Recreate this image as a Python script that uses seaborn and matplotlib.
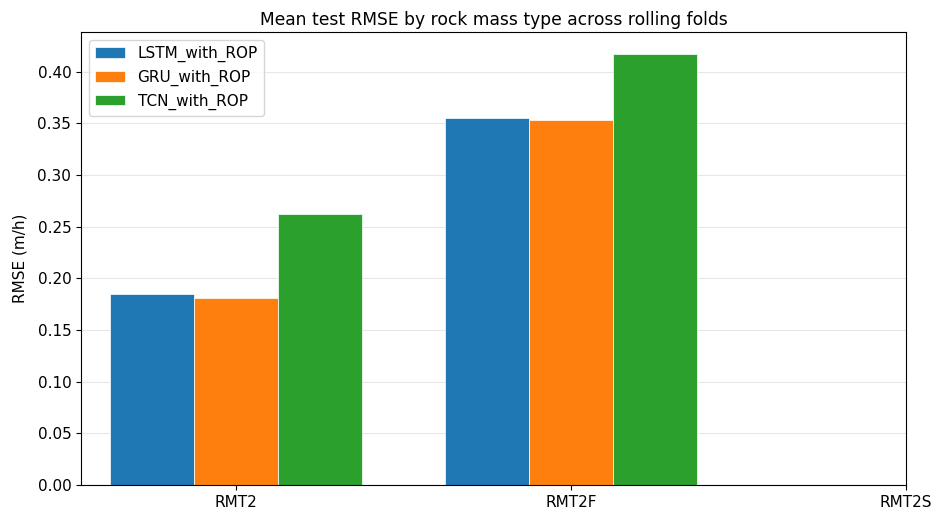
import numpy as np
import pandas as pd
import matplotlib
matplotlib.use("Agg")
import matplotlib.pyplot as plt
import seaborn as sns

# Mean test RMSE per rock mass type (RMT2S has no test folds -> no value)
rock_types = ["RMT2", "RMT2F", "RMT2S"]
models = ["LSTM_with_ROP", "GRU_with_ROP", "TCN_with_ROP"]
lstm_rmse = [0.1845, 0.3555, np.nan]
gru_rmse = [0.1807, 0.3535, np.nan]
tcn_rmse = [0.2623, 0.4174, np.nan]
colors = ["#1f77b4", "#ff7f0e", "#2ca02c"]

df = pd.DataFrame({
    "rock": rock_types * 3,
    "model": [m for m in models for _ in rock_types],
    "rmse": lstm_rmse + gru_rmse + tcn_rmse,
})

fig = plt.figure(figsize=(9.33, 5.13), dpi=100)
ax = fig.add_axes([0.0868, 0.0546, 0.8842, 0.883])

sns.barplot(data=df, x="rock", y="rmse", hue="model", order=rock_types,
            hue_order=models, palette=colors, saturation=1, width=0.75,
            errorbar=None, ax=ax, linewidth=0.5, edgecolor="white")

ax.set_xlim(-0.4625, 2.0)
ax.set_ylim(0, 0.4174 * 1.05)
ax.set_yticks(np.arange(0, 0.41, 0.05))
ax.yaxis.grid(True, color="#b0b0b0", alpha=0.3, linewidth=0.8)
ax.set_axisbelow(True)

ax.set_title("Mean test RMSE by rock mass type across rolling folds", fontsize=12.3, pad=5)
ax.set_xlabel("")
ax.set_ylabel("RMSE (m/h)", fontsize=11, labelpad=7)
ax.tick_params(labelsize=11)
ax.legend(loc="upper left", title=None, fontsize=11)

fig.savefig("out.png", dpi=100)
